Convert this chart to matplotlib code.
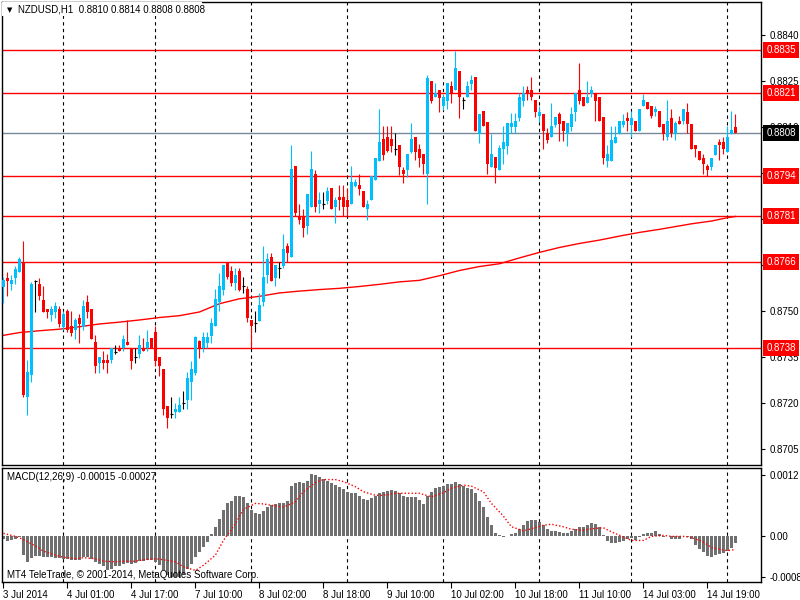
import numpy as np
import matplotlib
matplotlib.use("Agg")
import matplotlib.pyplot as plt

plt.rcParams['font.family'] = ['Liberation Sans', 'DejaVu Sans']

# ---- NZDUSD H1 candles (3 Jul 09:00 .. 15 Jul 02:00) ----
opens = [
    0.87578, 0.87608, 0.87587, 0.87607, 0.87626, 0.87660, 0.87220, 0.87291, 0.87598, 0.87589,
    0.87537, 0.87508, 0.87488, 0.87497, 0.87508, 0.87449, 0.87499, 0.87451, 0.87438, 0.87479,
    0.87449, 0.87529, 0.87508, 0.87400, 0.87331, 0.87341, 0.87341, 0.87341, 0.87368, 0.87380,
    0.87379, 0.87400, 0.87380, 0.87350, 0.87359, 0.87380, 0.87380, 0.87412, 0.87432, 0.87350,
    0.87311, 0.87191, 0.87164, 0.87171, 0.87171, 0.87201, 0.87210, 0.87268, 0.87300, 0.87401,
    0.87379, 0.87396, 0.87420, 0.87450, 0.87528, 0.87569, 0.87661, 0.87631, 0.87593, 0.87631,
    0.87580, 0.87571, 0.87472, 0.87461, 0.87469, 0.87528, 0.87618, 0.87677, 0.87609, 0.87639,
    0.87647, 0.87712, 0.87677, 0.87971, 0.87807, 0.87809, 0.87776, 0.87839, 0.87947, 0.87848,
    0.87850, 0.87859, 0.87899, 0.87839, 0.87872, 0.87872, 0.87861, 0.87850, 0.87906, 0.87909,
    0.87890, 0.87831, 0.87861, 0.87928, 0.87988, 0.88059, 0.88066, 0.88059, 0.88028, 0.88039,
    0.87960, 0.87960, 0.88018, 0.88068, 0.88028, 0.88010, 0.87947, 0.88250, 0.88196, 0.88218,
    0.88166, 0.88185, 0.88231, 0.88218, 0.88280, 0.88187, 0.88196, 0.88239, 0.88261, 0.88075,
    0.88151, 0.88115, 0.87969, 0.88001, 0.87958, 0.88028, 0.88036, 0.88099, 0.88099, 0.88129,
    0.88185, 0.88218, 0.88218, 0.88187, 0.88136, 0.88140, 0.88079, 0.88066, 0.88107, 0.88140,
    0.88120, 0.88077, 0.88099, 0.88147, 0.88218, 0.88198, 0.88176, 0.88207, 0.88209, 0.88198,
    0.88131, 0.87988, 0.87988, 0.88047, 0.88077, 0.88107, 0.88129, 0.88107, 0.88120, 0.88086,
    0.88166, 0.88180, 0.88169, 0.88147, 0.88151, 0.88109, 0.88066, 0.88129, 0.88077, 0.88120,
    0.88118, 0.88147, 0.88109, 0.88039, 0.88021, 0.87999, 0.87971, 0.87969, 0.88007, 0.88050,
    0.88050, 0.88018, 0.88077, 0.88100,
]
highs = [
    0.87610, 0.87628, 0.87619, 0.87648, 0.87677, 0.87729, 0.87341, 0.87594, 0.87600, 0.87609,
    0.87580, 0.87508, 0.87518, 0.87529, 0.87518, 0.87499, 0.87507, 0.87499, 0.87479, 0.87490,
    0.87537, 0.87551, 0.87508, 0.87421, 0.87350, 0.87370, 0.87361, 0.87380, 0.87389, 0.87389,
    0.87421, 0.87471, 0.87380, 0.87380, 0.87421, 0.87411, 0.87440, 0.87412, 0.87451, 0.87350,
    0.87311, 0.87191, 0.87221, 0.87201, 0.87221, 0.87240, 0.87303, 0.87338, 0.87419, 0.87405,
    0.87433, 0.87431, 0.87477, 0.87571, 0.87623, 0.87650, 0.87661, 0.87647, 0.87639, 0.87639,
    0.87610, 0.87582, 0.87472, 0.87499, 0.87558, 0.87712, 0.87690, 0.87690, 0.87650, 0.87661,
    0.87750, 0.87722, 0.88039, 0.87971, 0.87850, 0.87831, 0.87880, 0.88021, 0.87958, 0.87888,
    0.87888, 0.87904, 0.87899, 0.87872, 0.87909, 0.87909, 0.87899, 0.87971, 0.87931, 0.87947,
    0.87890, 0.87861, 0.87939, 0.87999, 0.88158, 0.88101, 0.88101, 0.88101, 0.88079, 0.88039,
    0.87969, 0.88010, 0.88112, 0.88068, 0.88045, 0.88010, 0.88269, 0.88250, 0.88241, 0.88218,
    0.88207, 0.88241, 0.88250, 0.88345, 0.88280, 0.88198, 0.88250, 0.88269, 0.88261, 0.88140,
    0.88151, 0.88115, 0.88075, 0.88001, 0.88042, 0.88101, 0.88112, 0.88144, 0.88144, 0.88209,
    0.88231, 0.88231, 0.88261, 0.88187, 0.88166, 0.88140, 0.88096, 0.88176, 0.88131, 0.88147,
    0.88120, 0.88112, 0.88164, 0.88209, 0.88309, 0.88198, 0.88250, 0.88231, 0.88209, 0.88198,
    0.88131, 0.88039, 0.88101, 0.88101, 0.88120, 0.88140, 0.88147, 0.88151, 0.88120, 0.88158,
    0.88207, 0.88180, 0.88169, 0.88169, 0.88151, 0.88109, 0.88187, 0.88158, 0.88120, 0.88136,
    0.88158, 0.88176, 0.88109, 0.88039, 0.88021, 0.88010, 0.87979, 0.87999, 0.88039, 0.88061,
    0.88066, 0.88101, 0.88151, 0.88140,
]
lows = [
    0.87526, 0.87548, 0.87567, 0.87589, 0.87626, 0.87220, 0.87162, 0.87268, 0.87497, 0.87537,
    0.87497, 0.87479, 0.87468, 0.87479, 0.87449, 0.87438, 0.87433, 0.87419, 0.87409, 0.87397,
    0.87438, 0.87479, 0.87409, 0.87300, 0.87300, 0.87311, 0.87300, 0.87331, 0.87359, 0.87369,
    0.87370, 0.87389, 0.87311, 0.87331, 0.87348, 0.87369, 0.87369, 0.87380, 0.87320, 0.87290,
    0.87161, 0.87120, 0.87152, 0.87152, 0.87171, 0.87182, 0.87180, 0.87210, 0.87291, 0.87347,
    0.87368, 0.87380, 0.87396, 0.87450, 0.87499, 0.87553, 0.87604, 0.87580, 0.87569, 0.87564,
    0.87560, 0.87466, 0.87380, 0.87431, 0.87469, 0.87517, 0.87593, 0.87599, 0.87580, 0.87607,
    0.87639, 0.87661, 0.87677, 0.87809, 0.87785, 0.87740, 0.87751, 0.87839, 0.87823, 0.87820,
    0.87831, 0.87848, 0.87831, 0.87787, 0.87828, 0.87809, 0.87809, 0.87848, 0.87904, 0.87877,
    0.87839, 0.87798, 0.87861, 0.87928, 0.87988, 0.87991, 0.88018, 0.88018, 0.88007, 0.87942,
    0.87917, 0.87936, 0.88014, 0.87991, 0.87969, 0.87947, 0.87848, 0.88176, 0.88196, 0.88147,
    0.88155, 0.88158, 0.88176, 0.88218, 0.88129, 0.88158, 0.88196, 0.88220, 0.88086, 0.88047,
    0.88101, 0.87947, 0.87969, 0.87917, 0.87958, 0.87980, 0.88010, 0.88079, 0.88079, 0.88120,
    0.88166, 0.88187, 0.88187, 0.88131, 0.88115, 0.88028, 0.88047, 0.88066, 0.88099, 0.88055,
    0.88055, 0.88036, 0.88086, 0.88120, 0.88174, 0.88167, 0.88176, 0.88198, 0.88118, 0.88118,
    0.87980, 0.87969, 0.87988, 0.88047, 0.88077, 0.88099, 0.88086, 0.88068, 0.88086, 0.88086,
    0.88166, 0.88158, 0.88129, 0.88136, 0.88099, 0.88058, 0.88058, 0.88068, 0.88058, 0.88109,
    0.88109, 0.88079, 0.88028, 0.88001, 0.87991, 0.87947, 0.87939, 0.87960, 0.88007, 0.87991,
    0.88010, 0.88018, 0.88077, 0.88080,
]
closes = [
    0.87600, 0.87598, 0.87600, 0.87638, 0.87668, 0.87228, 0.87302, 0.87589, 0.87598, 0.87549,
    0.87497, 0.87497, 0.87508, 0.87518, 0.87459, 0.87489, 0.87438, 0.87430, 0.87471, 0.87458,
    0.87518, 0.87497, 0.87409, 0.87320, 0.87350, 0.87331, 0.87331, 0.87380, 0.87368, 0.87369,
    0.87410, 0.87389, 0.87339, 0.87350, 0.87390, 0.87369, 0.87400, 0.87380, 0.87339, 0.87320,
    0.87180, 0.87152, 0.87164, 0.87182, 0.87193, 0.87201, 0.87283, 0.87311, 0.87414, 0.87375,
    0.87414, 0.87414, 0.87461, 0.87539, 0.87582, 0.87650, 0.87612, 0.87591, 0.87618, 0.87569,
    0.87580, 0.87477, 0.87450, 0.87461, 0.87520, 0.87610, 0.87668, 0.87599, 0.87650, 0.87639,
    0.87701, 0.87690, 0.87961, 0.87820, 0.87796, 0.87769, 0.87880, 0.87961, 0.87839, 0.87861,
    0.87850, 0.87890, 0.87831, 0.87861, 0.87861, 0.87839, 0.87839, 0.87919, 0.87919, 0.87896,
    0.87839, 0.87850, 0.87939, 0.87999, 0.88050, 0.88007, 0.88021, 0.88036, 0.88028, 0.87969,
    0.87947, 0.88010, 0.88059, 0.88018, 0.87998, 0.87980, 0.88259, 0.88185, 0.88209, 0.88194,
    0.88196, 0.88241, 0.88207, 0.88291, 0.88196, 0.88187, 0.88231, 0.88252, 0.88086, 0.88140,
    0.88101, 0.87978, 0.88010, 0.87967, 0.88032, 0.88050, 0.88112, 0.88112, 0.88120, 0.88198,
    0.88209, 0.88207, 0.88196, 0.88147, 0.88147, 0.88086, 0.88058, 0.88101, 0.88131, 0.88109,
    0.88086, 0.88112, 0.88140, 0.88209, 0.88185, 0.88167, 0.88198, 0.88218, 0.88185, 0.88118,
    0.87999, 0.88010, 0.88058, 0.88068, 0.88120, 0.88120, 0.88118, 0.88129, 0.88086, 0.88158,
    0.88187, 0.88158, 0.88136, 0.88158, 0.88099, 0.88077, 0.88120, 0.88079, 0.88112, 0.88109,
    0.88158, 0.88109, 0.88028, 0.88028, 0.87991, 0.87980, 0.87960, 0.87999, 0.88039, 0.88039,
    0.88028, 0.88068, 0.88088, 0.88080,
]

# moving average (red line), read at a few bars
ma_bars = [0, 4, 9, 14, 19, 24, 29, 34, 39, 44, 49, 54, 59, 64, 69, 74, 79, 84, 89, 94,
           99, 104, 109, 114, 119, 124, 129, 134, 139, 144, 149, 154, 159, 164, 172, 177, 181, 183]
ma_values = [0.87421, 0.87430, 0.87436, 0.87441, 0.87449, 0.87458, 0.87464, 0.87471, 0.87479, 0.87485,
             0.87497, 0.87524, 0.87540, 0.87548, 0.87559, 0.87565, 0.87570, 0.87574, 0.87580, 0.87587,
             0.87595, 0.87600, 0.87615, 0.87632, 0.87645, 0.87654, 0.87673, 0.87691, 0.87707, 0.87720,
             0.87731, 0.87744, 0.87756, 0.87766, 0.87784, 0.87793, 0.87804, 0.87808]

# horizontal levels
red_levels = [0.8835, 0.8821, 0.8794, 0.8781, 0.8766, 0.8738]
last_price = 0.8808
price_ticks = [0.8840, 0.8825, 0.8810, 0.8795, 0.8780, 0.8765, 0.8750, 0.8735, 0.8720, 0.8705]
hidden_ticks = [0.8795, 0.8780, 0.8765]   # sit under the level boxes

# MACD(12,26,9)
macd_main = [
    -0.00007, -0.00010, -0.00009, -0.00007, -0.00003, -0.00038, -0.00051, -0.00043, -0.00040, -0.00040,
    -0.00042, -0.00042, -0.00042, -0.00043, -0.00043, -0.00046, -0.00046, -0.00048, -0.00048, -0.00047,
    -0.00042, -0.00042, -0.00045, -0.00051, -0.00055, -0.00060, -0.00067, -0.00065, -0.00060, -0.00060,
    -0.00056, -0.00053, -0.00055, -0.00053, -0.00050, -0.00050, -0.00048, -0.00047, -0.00051, -0.00058,
    -0.00068, -0.00078, -0.00081, -0.00082, -0.00081, -0.00076, -0.00065, -0.00055, -0.00042, -0.00032,
    -0.00022, -0.00012, 0.00003, 0.00018, 0.00034, 0.00052, 0.00064, 0.00069, 0.00078, 0.00078,
    0.00076, 0.00065, 0.00052, 0.00045, 0.00044, 0.00049, 0.00057, 0.00061, 0.00063, 0.00064,
    0.00065, 0.00069, 0.00098, 0.00105, 0.00107, 0.00105, 0.00109, 0.00122, 0.00120, 0.00117,
    0.00113, 0.00109, 0.00105, 0.00100, 0.00097, 0.00092, 0.00087, 0.00085, 0.00084, 0.00078,
    0.00072, 0.00071, 0.00074, 0.00078, 0.00084, 0.00087, 0.00089, 0.00090, 0.00089, 0.00084,
    0.00078, 0.00077, 0.00076, 0.00076, 0.00071, 0.00062, 0.00078, 0.00087, 0.00094, 0.00097,
    0.00098, 0.00102, 0.00102, 0.00107, 0.00102, 0.00098, 0.00094, 0.00092, 0.00084, 0.00069,
    0.00057, 0.00038, 0.00021, 0.00006, 0.00001, -0.00003, -0.00001, 0.00003, 0.00006, 0.00014,
    0.00021, 0.00029, 0.00032, 0.00031, 0.00028, 0.00021, 0.00014, 0.00010, 0.00010, 0.00008,
    0.00006, 0.00006, 0.00010, 0.00014, 0.00018, 0.00018, 0.00021, 0.00026, 0.00024, 0.00018,
    0.00001, -0.00011, -0.00014, -0.00015, -0.00012, -0.00010, -0.00007, -0.00005, -0.00009, -0.00003,
    0.00003, 0.00006, 0.00006, 0.00010, 0.00003, -0.00002, -0.00001, -0.00007, -0.00007, -0.00007,
    -0.00001, -0.00002, -0.00007, -0.00018, -0.00025, -0.00032, -0.00040, -0.00042, -0.00038, -0.00035,
    -0.00034, -0.00030, -0.00023, -0.00015,
]
signal_bars = [0, 3, 5, 8, 10, 13, 15, 18, 20, 23, 25, 28, 30, 33, 35, 38, 40, 43, 45, 48,
               50, 53, 55, 58, 60, 63, 65, 68, 70, 73, 75, 78, 80, 83, 85, 88, 90, 93, 95, 98,
               100, 104, 107, 110, 112, 115, 117, 120, 122, 125, 127, 130, 132, 135, 137, 140, 142, 145, 147, 150,
               152, 155, 157, 160, 162, 165, 167, 170, 172, 175, 177, 180, 181, 183]
signal_values = [0.00005, -0.00001, -0.00007, -0.00020, -0.00030, -0.00038, -0.00042, -0.00045, -0.00043, -0.00045,
                 -0.00050, -0.00051, -0.00050, -0.00050, -0.00047, -0.00045, -0.00047, -0.00051, -0.00061, -0.00068,
                 -0.00058, -0.00038, -0.00009, 0.00024, 0.00052, 0.00064, 0.00063, 0.00059, 0.00057, 0.00067,
                 0.00087, 0.00105, 0.00111, 0.00111, 0.00107, 0.00097, 0.00087, 0.00080, 0.00080, 0.00084,
                 0.00084, 0.00084, 0.00077, 0.00085, 0.00094, 0.00100, 0.00098, 0.00087, 0.00064, 0.00039,
                 0.00018, 0.00010, 0.00014, 0.00021, 0.00023, 0.00018, 0.00013, 0.00011, 0.00014, 0.00016,
                 0.00008, -0.00002, -0.00009, -0.00009, -0.00001, 0.00001, -0.00001, -0.00001, -0.00003, -0.00012,
                 -0.00023, -0.00028, -0.00029, -0.00027]

# time axis
day_starts = [15, 38, 62, 86, 110, 134, 157, 181]
time_bars = [0, 16, 32, 48, 64, 80, 96, 112, 128, 144, 160, 176]
time_labels = ["3 Jul 2014", "4 Jul 01:00", "4 Jul 17:00", "7 Jul 10:00", "8 Jul 02:00",
               "8 Jul 18:00", "9 Jul 10:00", "10 Jul 02:00", "10 Jul 18:00", "11 Jul 10:00",
               "14 Jul 03:00", "14 Jul 19:00"]

BULL = '#00BFFF'
BEAR = '#FF0000'
FS = 7

o = np.array(opens); h = np.array(highs); l = np.array(lows); c = np.array(closes)
x = np.arange(len(o))
cols = np.where(c > o, BULL, np.where(c < o, BEAR, 'black'))

fig = plt.figure(figsize=(8, 6), dpi=100)
W, H = 800.0, 600.0
ax = fig.add_axes([2 / W, 1 - 465 / H, 759 / W, 463 / H])
ax2 = fig.add_axes([2 / W, 1 - 582 / H, 759 / W, 114.5 / H])

xlim = (-0.35, 189.4)

# ---- price panel ----
for lv in red_levels:
    ax.axhline(lv, color='red', lw=1.0, zorder=1)
ax.axhline(last_price, color='#778899', lw=1.0, zorder=1)
for d in day_starts:
    ax.axvline(d, color='black', lw=0.8, ls=(0, (3, 3)), zorder=1)

ax.plot(ma_bars, ma_values, color='red', lw=1.0, zorder=2)

ax.vlines(x, l, h, colors=cols, lw=0.8, zorder=3)
body_lo = np.minimum(o, c)
body_h = np.abs(c - o)
ax.bar(x, body_h, bottom=body_lo, width=0.75, color=cols, linewidth=0, zorder=4)
doji = c == o
ax.hlines(o[doji], x[doji] - 0.45, x[doji] + 0.45, colors='black', lw=0.8, zorder=4)

ax.set_xlim(*xlim)
ax.set_ylim(0.86999, 0.88506)
ax.set_xticks([])
ax.yaxis.tick_right()
ax.set_yticks(price_ticks)
ax.set_yticklabels(["" if p in hidden_ticks else f"{p:.4f}" for p in price_ticks])
ax.tick_params(axis='y', direction='out', length=3, pad=3, labelsize=FS, colors='black')

ytr = ax.get_yaxis_transform()
for lv in red_levels:
    ax.text(1.007, lv, f"{lv:.4f}", transform=ytr, ha='left', va='center', color='white',
            fontsize=FS, clip_on=False, zorder=10,
            bbox=dict(boxstyle='square,pad=0.3', fc='red', ec='none'))
ax.text(1.007, last_price, f"{last_price:.4f}", transform=ytr, ha='left', va='center',
        color='white', fontsize=FS, clip_on=False, zorder=10,
        bbox=dict(boxstyle='square,pad=0.3', fc='black', ec='none'))

# header with white backing (hides the grid behind it)
ax.add_patch(plt.Rectangle((0, 1 - 14 / 463), 200 / 759, 14 / 463, transform=ax.transAxes,
                           facecolor='white', edgecolor='none', zorder=6))
fig.text(7 / W, 1 - 10 / H, "\u25bc", fontsize=5, va='center', ha='left', family='DejaVu Sans',
         zorder=7)
fig.text(18 / W, 1 - 10 / H, "NZDUSD,H1  0.8810 0.8814 0.8808 0.8808", fontsize=FS,
         va='center', ha='left', zorder=7)

# ---- MACD panel ----
ax2.bar(x, macd_main, width=0.75, color='#707070', linewidth=0, zorder=2)
ax2.plot(signal_bars, signal_values, color='red', lw=1.0, ls=(0, (1, 1.5)), zorder=3)
for d in day_starts:
    ax2.axvline(d, color='black', lw=0.8, ls=(0, (3, 3)), zorder=1)
ax2.set_xlim(*xlim)
ax2.set_ylim(-0.000909, 0.001348)
ax2.yaxis.tick_right()
ax2.set_yticks([0.0012, 0.0, -0.00081])
ax2.set_yticklabels(["0.0012", "0.00", "-0.00081"])
ax2.tick_params(axis='y', direction='out', length=3, pad=3, labelsize=FS, colors='black')
ax2.set_xticks(time_bars)
ax2.set_xticklabels(time_labels)
for lab in ax2.get_xticklabels():
    lab.set_horizontalalignment('left')
ax2.tick_params(axis='x', direction='out', length=4, pad=2, labelsize=FS)

ax2.text(5 / 759, 1 - 10 / 114.5, "MACD(12,26,9) -0.00015 -0.00027", transform=ax2.transAxes,
         fontsize=FS, va='center', ha='left', zorder=5)
ax2.text(5 / 759, 7 / 114.5, "MT4 TeleTrade, \u00a9 2001-2014, MetaQuotes Software Corp.",
         transform=ax2.transAxes, fontsize=FS, va='center', ha='left', zorder=5)

for a in (ax, ax2):
    for s in a.spines.values():
        s.set_color('black')
        s.set_linewidth(1.0)

fig.savefig("out.png", dpi=100)
